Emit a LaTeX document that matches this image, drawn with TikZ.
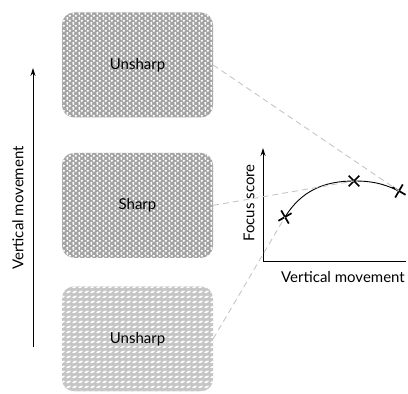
\documentclass[tikz,border=0pt]{standalone}
\usepackage{fontspec}
\setmainfont{Lato}
\usepackage{tikz}
\usetikzlibrary{positioning}
\usetikzlibrary{patterns}
\usetikzlibrary{arrows.meta}
\usetikzlibrary{shapes.misc}
% white holes laid over a grey fill
\pgfdeclarepatternformonly{hexholes}{\pgfpoint{0pt}{0pt}}{\pgfpoint{6pt}{5pt}}{\pgfpoint{6pt}{5pt}}{
  \pgfpathcircle{\pgfpoint{1.5pt}{1.25pt}}{1.45pt}
  \pgfpathcircle{\pgfpoint{4.5pt}{3.75pt}}{1.45pt}
  \pgfpathcircle{\pgfpoint{4.5pt}{-1.25pt}}{1.45pt}
  \pgfpathcircle{\pgfpoint{1.5pt}{6.25pt}}{1.45pt}
  \pgfusepath{fill}
}
\pgfdeclarepatternformonly{slantholes}{\pgfpoint{0pt}{0pt}}{\pgfpoint{6pt}{5pt}}{\pgfpoint{6pt}{5pt}}{
  \pgftransformshift{\pgfpoint{3pt}{2.5pt}}
  \pgftransformrotate{22}
  \pgfpathellipse{\pgfpointorigin}{\pgfpoint{2.8pt}{0pt}}{\pgfpoint{0pt}{1.1pt}}
  \pgfusepath{fill}
}
\tikzstyle{imgbox} = [rounded corners=12pt, minimum width=151pt, minimum height=105pt, font=\fontsize{15}{17}\selectfont]
\tikzstyle{meshbox} = [imgbox, preaction={fill=gray!72}, pattern=hexholes, pattern color=white]
\tikzstyle{softbox} = [imgbox, preaction={fill=gray!45}, pattern=slantholes, pattern color=white]
\tikzstyle{axislabel} = [font=\fontsize{15}{17}\selectfont, inner sep=0pt]
\tikzstyle{marker} = [draw, cross out, line width=1.7pt, minimum size=9pt, inner sep=0pt]
\tikzstyle{guide} = [gray!45, dashed, dash pattern=on 6pt off 4pt, line width=0.9pt]

\begin{document}
\begin{tikzpicture}[x=1pt, y=1pt]
  \useasboundingbox (0,0) rectangle (408,394);

  \node[meshbox] (top) at (137.5,329) {Unsharp};
  \node[meshbox, below=35pt of top] (mid) {Sharp};
  \node[softbox, below=28pt of mid] (bot) {Unsharp};

  \coordinate (vlo) at (33,47);
  \coordinate (vhi) at (33,326);
  \draw[line width=1pt, -{Stealth[length=8pt, width=5pt]}] (vlo) -- (vhi);
  \node[axislabel, rotate=90] (vlab) at (18,186) {Vertical movement};

  \coordinate (origin) at (263,132);
  \coordinate (ytop) at (263,246);
  \coordinate (xend) at (406,132);
  \draw[line width=1pt, -{Stealth[length=8pt, width=5pt]}] (origin) -- (ytop);
  \draw[line width=1pt] (origin) -- (xend);
  \node[axislabel, rotate=90] (ylab) at (249,191) {Focus score};
  \node[axislabel] (xlab) at (343,117) {Vertical movement};

  \node[marker, rotate=-15] (m1) at (285,177) {};
  \node[marker] (m2) at (354,213) {};
  \node[marker, rotate=15] (m3) at (399,203) {};

  \draw[line width=0.9pt] (m1.center) to[out=58, in=180] (m2.center) to[out=0, in=155] (m3.center);

  \draw[guide] (top.east) -- (m3.center);
  \draw[guide] (mid.east) -- (m2.center);
  \draw[guide] (bot.east) -- (m1.center);
\end{tikzpicture}
\end{document}
